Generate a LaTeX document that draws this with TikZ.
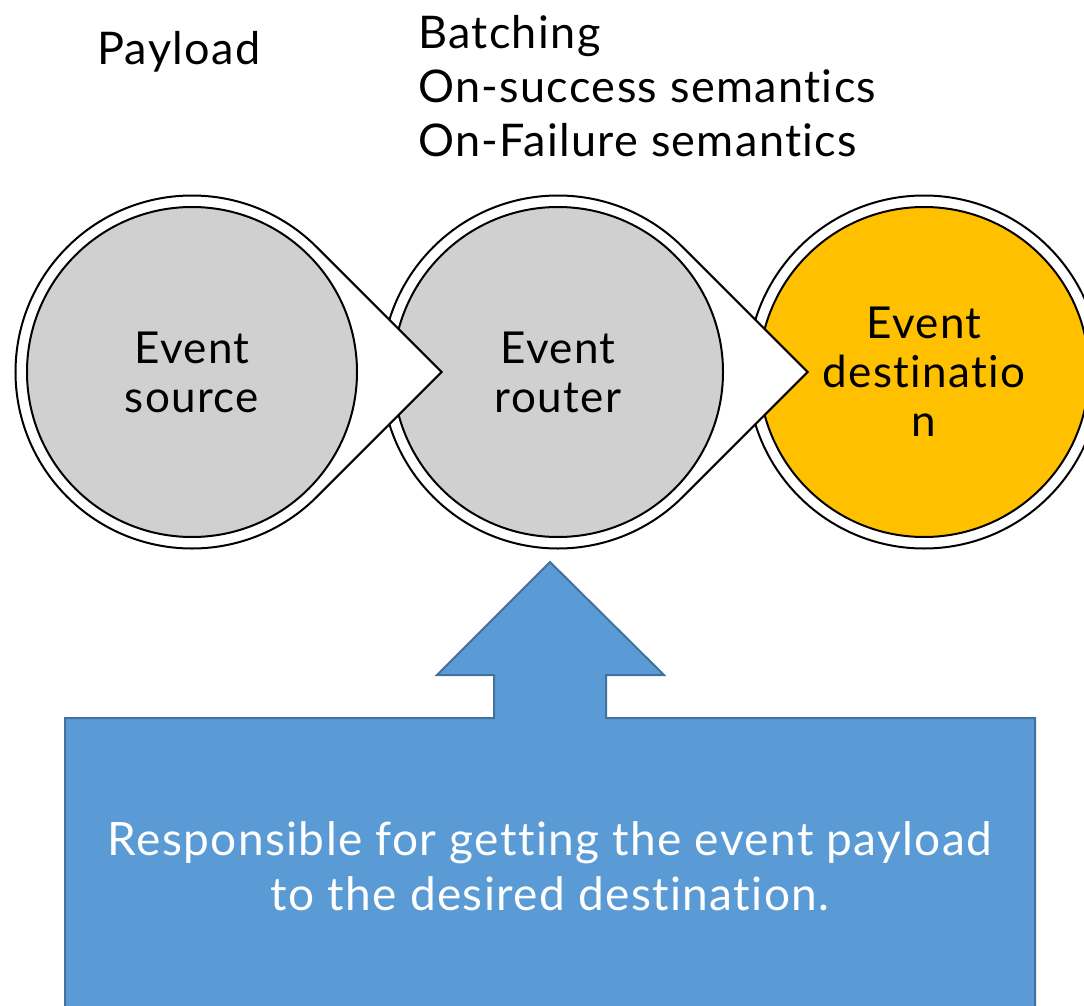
\documentclass[tikz,border=0pt]{standalone}
\usepackage{fontspec}
\setmainfont{Lato}[Ligatures={NoCommon,NoRequired,NoContextual}, LetterSpace=3.0]
\definecolor{nodegray}{RGB}{208,208,208}
\definecolor{destyellow}{RGB}{255,192,0}
\definecolor{boxblue}{RGB}{91,155,213}
\definecolor{boxedge}{RGB}{65,113,156}
\tikzset{
  ring/.style={fill=white, draw=black, line width=2pt},
  stage/.style={circle, draw=black, line width=2pt, minimum size=330pt,
    inner sep=0pt, align=center, font=\fontsize{44pt}{49pt}\selectfont},
  toplabel/.style={inner sep=0pt, font=\fontsize{45pt}{54pt}\selectfont},
  callout/.style={fill=boxblue, draw=boxedge, line width=2pt, line join=miter},
  callouttext/.style={inner sep=0pt, text=white, align=center,
    font=\fontsize{46pt}{55pt}\selectfont}
}
% outer ring of a stage, with a pointed tab to the right
\newcommand\dropring[2]{%
  \draw[ring] (#1,#2) ++(45:176.5pt) arc[start angle=45, end angle=315, radius=176.5pt]
    -- ({#1+249.6},#2) -- cycle;}
\begin{document}
\begin{tikzpicture}[x=1pt, y=-1pt]
  \clip (0,0) rectangle (1084,1006);

  % destination stage
  \draw[ring] (924,372) circle[radius=176.5pt];
  \node[stage, fill=destyellow] (dst) at (924,372) {Event\\destinatio\\n};

  % router stage
  \dropring{558}{372}
  \node[stage, fill=nodegray] (rtr) at (558,372) {Event\\router};

  % source stage
  \dropring{192}{372}
  \node[stage, fill=nodegray] (src) at (192,372) {Event\\source};

  % labels above the stages
  \node[toplabel, anchor=base west] (payload) at (97,65) {Payload};
  \node[toplabel, anchor=north west, align=left] (features) at (418,15)
    {Batching\\On-success semantics\\On-Failure semantics};

  % call-out box with arrow pointing at the router
  \draw[callout] (65,718) -- (494,718) -- (494,675) -- (437,675) -- (550,562)
    -- (664,675) -- (606,675) -- (606,718) -- (1035,718) -- (1035,1020)
    -- (65,1020) -- cycle;
  \node[callouttext] (note) at (550,866)
    {Responsible for getting the event payload\\to the desired destination.};
\end{tikzpicture}
\end{document}
